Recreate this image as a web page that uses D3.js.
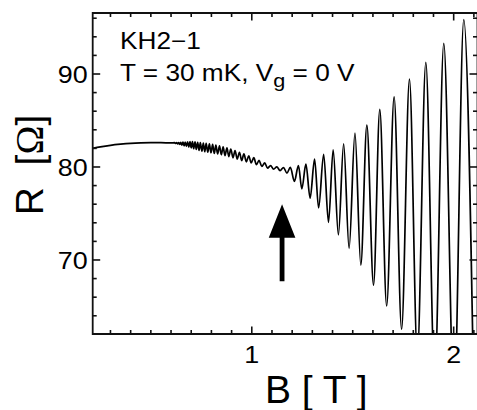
<!DOCTYPE html>
<html>
<head>
<meta charset="utf-8">
<script src="https://cdn.jsdelivr.net/npm/d3@7"></script>
<style>
  html, body { margin: 0; padding: 0; background: #fff; overflow: hidden; }
  svg { display: block; }
  text { font-family: "Liberation Sans", Arial, Helvetica, sans-serif; fill: #000; }
</style>
</head>
<body>
<svg id="chart" width="477" height="410"></svg>
<script>
// Magnetic field B (T): smooth background first, then alternating extrema of the
// Shubnikov–de Haas oscillations (peak, valley, peak, ...).
const fieldT = [
  0.212, 0.25, 0.30, 0.35, 0.40, 0.45, 0.50, 0.55, 0.60,
  0.618, 0.623, 0.628, 0.633, 0.638, 0.643, 0.648, 0.654, 0.659, 0.665,
  0.670, 0.676, 0.682, 0.688, 0.694, 0.700, 0.706, 0.712, 0.719, 0.725,
  0.732, 0.739, 0.745, 0.753, 0.760, 0.767, 0.774, 0.782, 0.790, 0.798,
  0.806, 0.814, 0.822, 0.831, 0.840, 0.849, 0.858, 0.867, 0.877, 0.886,
  0.896, 0.907, 0.917, 0.928, 0.939, 0.950, 0.961, 0.973, 0.985, 0.997,
  1.010, 1.023, 1.036, 1.050, 1.064, 1.078, 1.093, 1.108, 1.124, 1.140,
  1.157, 1.174, 1.191, 1.211, 1.231, 1.248, 1.268, 1.289, 1.311, 1.331,
  1.356, 1.380, 1.403, 1.429, 1.455, 1.482, 1.511, 1.540, 1.570, 1.603,
  1.634, 1.668, 1.705, 1.742, 1.781, 1.820, 1.862, 1.906, 1.951, 2.002,
  2.050, 2.102
];

// Longitudinal resistance R (Ω) at each field value above.
const resistanceOhm = [
  82.00, 82.16, 82.33, 82.45, 82.54, 82.59, 82.61, 82.61, 82.59,
  82.61, 82.53, 82.62, 82.48, 82.62, 82.43, 82.64, 82.36, 82.67, 82.28,
  82.69, 82.22, 82.70, 82.14, 82.73, 82.06, 82.72, 81.96, 82.70, 81.88,
  82.66, 81.78, 82.63, 81.70, 82.58, 81.64, 82.54, 81.59, 82.49, 81.53,
  82.43, 81.46, 82.35, 81.40, 82.28, 81.32, 82.17, 81.23, 82.05, 81.12,
  81.92, 80.99, 81.76, 80.85, 81.58, 80.69, 81.41, 80.56, 81.21, 80.44,
  81.00, 80.25, 80.71, 80.06, 80.44, 79.88, 80.15, 79.77, 80.01, 79.61,
  79.94, 79.35, 79.95, 78.45, 80.15, 77.65, 80.30, 76.65, 80.85, 75.60,
  81.35, 74.05, 81.85, 72.70, 82.50, 71.25, 83.65, 69.45, 84.50, 67.30,
  86.20, 65.05, 87.55, 62.55, 89.45, 59.80, 91.25, 57.20, 93.30, 54.60,
  95.85, 52.00
];

const xMajorTicks = [1, 2];
const xMinorTicks = [0.3, 0.4, 0.5, 0.6, 0.7, 0.8, 0.9, 1.1, 1.2, 1.3, 1.4, 1.5, 1.6, 1.7, 1.8, 1.9, 2.1];
const yMajorTicks = [70, 80, 90];
const yMinorTicks = [64, 66, 68, 72, 74, 76, 78, 82, 84, 86, 88, 92, 94, 96];

const sampleName = "KH2\u22121";
const conditionsMain = "T = 30 mK, V";
const conditionsSub = "g";
const conditionsTail = " = 0 V";
const xTitle = "B [ T ]";

// Field at which the arrow marks the beat node, with its tip and tail in Ω.
const arrowField = 1.15;
const arrowTipOhm = 76.0;
const arrowBaseOhm = 72.4;
const arrowTailOhm = 67.7;

// ---- layout ----
const plot = { left: 92.7, right: 477.5, top: 13, bottom: 334 };
const x = d3.scaleLinear().domain([0.212, 2.118]).range([plot.left, plot.right]);
const y = d3.scaleLinear().domain([62.04, 96.56]).range([plot.bottom, plot.top]);

const svg = d3.select("#chart");
const ink = "#111";

svg.append("defs").append("clipPath").attr("id", "plotClip")
  .append("rect")
  .attr("x", plot.left).attr("y", plot.top)
  .attr("width", plot.right - plot.left).attr("height", plot.bottom - plot.top);

// resistance trace
const points = fieldT.map((b, i) => [b, resistanceOhm[i]]);
const line = d3.line()
  .x(d => x(d[0]))
  .y(d => y(d[1]))
  .curve(d3.curveMonotoneX);

svg.append("path")
  .datum(points)
  .attr("clip-path", "url(#plotClip)")
  .attr("d", line)
  .attr("fill", "none")
  .attr("stroke", "#000")
  .attr("stroke-width", 1.7)
  .attr("stroke-linejoin", "round");

// frame
const frame = svg.append("g").attr("stroke", ink).attr("stroke-width", 1.8).attr("fill", "none");
frame.append("path").attr("d",
  `M${plot.right},${plot.top}H${plot.left}V${plot.bottom}H${plot.right}V${plot.top}`);

// inward ticks on all four sides
const ticks = svg.append("g").attr("stroke", ink).attr("stroke-width", 1.6);
const majorLen = 7.5, minorLen = 4;
function xTicks(values, len) {
  values.forEach(v => {
    ticks.append("line").attr("x1", x(v)).attr("x2", x(v))
      .attr("y1", plot.bottom).attr("y2", plot.bottom - len);
    ticks.append("line").attr("x1", x(v)).attr("x2", x(v))
      .attr("y1", plot.top).attr("y2", plot.top + len);
  });
}
function yTicks(values, len) {
  values.forEach(v => {
    ticks.append("line").attr("y1", y(v)).attr("y2", y(v))
      .attr("x1", plot.left).attr("x2", plot.left + len);
    ticks.append("line").attr("y1", y(v)).attr("y2", y(v))
      .attr("x1", 477).attr("x2", 477 - len);
  });
}
xTicks(xMajorTicks, majorLen);
xTicks(xMinorTicks, minorLen);
yTicks(yMajorTicks, majorLen);
yTicks(yMinorTicks, minorLen);

// tick labels
const tickFont = 24, stretch = 1.12;
yMajorTicks.forEach(v => {
  svg.append("text")
    .attr("transform", `translate(${plot.left - 5},${y(v) + 8.8}) scale(${stretch},1)`)
    .attr("text-anchor", "end")
    .style("font-size", tickFont + "px")
    .text(v);
});
xMajorTicks.forEach(v => {
  svg.append("text")
    .attr("transform", `translate(${x(v)},363.3) scale(${stretch},1)`)
    .attr("text-anchor", "middle")
    .style("font-size", tickFont + "px")
    .text(v);
});

// axis titles
svg.append("text")
  .attr("x", 265).attr("y", 403.3)
  .style("font-size", "39px")
  .text(xTitle);

const yTitle = svg.append("text")
  .attr("transform", "translate(42.7,165) rotate(-90)")
  .attr("text-anchor", "middle")
  .style("font-size", "39px");
yTitle.append("tspan").text("R\u00a0\u00a0[");
yTitle.append("tspan").style("font-family", "'Liberation Serif', 'Times New Roman', serif").text("\u03a9");
yTitle.append("tspan").text("]");

// annotation
const noteStretch = 1.14;
svg.append("text")
  .attr("transform", `translate(120,49.3) scale(${noteStretch},1)`)
  .style("font-size", "23px")
  .text(sampleName);

const cond = svg.append("text")
  .attr("transform", `translate(120,81) scale(${noteStretch},1)`)
  .style("font-size", "23px");
cond.append("tspan").text(conditionsMain);
cond.append("tspan").attr("dy", 6).style("font-size", "19px").text(conditionsSub);
cond.append("tspan").attr("dy", -6).text(conditionsTail);

// arrow marking the node
const ax = x(arrowField);
const halfHead = 13.3, halfShaft = 2.4;
svg.append("path")
  .attr("d", [
    `M${ax},${y(arrowTipOhm)}`,
    `L${ax + halfHead},${y(arrowBaseOhm)}`,
    `L${ax + halfShaft},${y(arrowBaseOhm)}`,
    `L${ax + halfShaft},${y(arrowTailOhm)}`,
    `L${ax - halfShaft},${y(arrowTailOhm)}`,
    `L${ax - halfShaft},${y(arrowBaseOhm)}`,
    `L${ax - halfHead},${y(arrowBaseOhm)}`,
    "Z"
  ].join(""))
  .attr("fill", "#000");
</script>
</body>
</html>
